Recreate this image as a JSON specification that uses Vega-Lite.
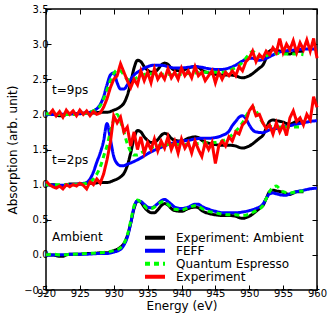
{
"$schema":"https://vega.github.io/schema/vega-lite/v6.json",
"width":271,"height":281,
"autosize":{"type":"none"},
"padding":{"left":46,"top":9,"right":16,"bottom":33},
"background":"white",
"datasets":{
"sp":[
{"s":"K","g":"a","E":920,"A":0.0},{"s":"K","g":"a","E":921,"A":0.0},{"s":"K","g":"a","E":922,"A":-0.02},{"s":"K","g":"a","E":922.5,"A":-0.02},{"s":"K","g":"a","E":923,"A":0.0},{"s":"K","g":"a","E":924,"A":0.01},{"s":"K","g":"a","E":925,"A":0.01},{"s":"K","g":"a","E":926,"A":0.02},{"s":"K","g":"a","E":927,"A":0.02},{"s":"K","g":"a","E":928,"A":0.03},{"s":"K","g":"a","E":929,"A":0.03},{"s":"K","g":"a","E":930,"A":0.06},{"s":"K","g":"a","E":931,"A":0.11},{"s":"K","g":"a","E":931.5,"A":0.16},{"s":"K","g":"a","E":932,"A":0.27},{"s":"K","g":"a","E":932.5,"A":0.45},{"s":"K","g":"a","E":933,"A":0.66},{"s":"K","g":"a","E":933.5,"A":0.77},{"s":"K","g":"a","E":934,"A":0.75},{"s":"K","g":"a","E":934.5,"A":0.68},{"s":"K","g":"a","E":935,"A":0.63},{"s":"K","g":"a","E":935.5,"A":0.6},{"s":"K","g":"a","E":936,"A":0.6},{"s":"K","g":"a","E":936.5,"A":0.64},{"s":"K","g":"a","E":937,"A":0.7},{"s":"K","g":"a","E":937.5,"A":0.73},{"s":"K","g":"a","E":938,"A":0.71},{"s":"K","g":"a","E":938.5,"A":0.66},{"s":"K","g":"a","E":939,"A":0.63},{"s":"K","g":"a","E":940,"A":0.62},{"s":"K","g":"a","E":941,"A":0.66},{"s":"K","g":"a","E":942,"A":0.68},{"s":"K","g":"a","E":942.5,"A":0.67},{"s":"K","g":"a","E":943,"A":0.63},{"s":"K","g":"a","E":944,"A":0.59},{"s":"K","g":"a","E":945,"A":0.57},{"s":"K","g":"a","E":946,"A":0.56},{"s":"K","g":"a","E":947,"A":0.56},{"s":"K","g":"a","E":948,"A":0.55},{"s":"K","g":"a","E":948.5,"A":0.53},{"s":"K","g":"a","E":949,"A":0.52},{"s":"K","g":"a","E":949.5,"A":0.53},{"s":"K","g":"a","E":950,"A":0.55},{"s":"K","g":"a","E":950.5,"A":0.58},{"s":"K","g":"a","E":951,"A":0.62},{"s":"K","g":"a","E":951.5,"A":0.66},{"s":"K","g":"a","E":952,"A":0.7},{"s":"K","g":"a","E":952.5,"A":0.8},{"s":"K","g":"a","E":953,"A":0.9},{"s":"K","g":"a","E":953.5,"A":0.92},{"s":"K","g":"a","E":954,"A":0.91},{"s":"K","g":"a","E":955,"A":0.89},{"s":"K","g":"a","E":955.5,"A":0.87},{"s":"K","g":"a","E":956,"A":0.86},{"s":"K","g":"a","E":956.5,"A":0.88},{"s":"K","g":"a","E":957,"A":0.9},{"s":"K","g":"a","E":958,"A":0.9},
{"s":"K","g":"b","E":920,"A":1.0},{"s":"K","g":"b","E":921,"A":1.0},{"s":"K","g":"b","E":922,"A":0.98},{"s":"K","g":"b","E":922.5,"A":0.98},{"s":"K","g":"b","E":923,"A":1.0},{"s":"K","g":"b","E":924,"A":1.01},{"s":"K","g":"b","E":925,"A":1.01},{"s":"K","g":"b","E":926,"A":1.02},{"s":"K","g":"b","E":927,"A":1.02},{"s":"K","g":"b","E":928,"A":1.03},{"s":"K","g":"b","E":929,"A":1.03},{"s":"K","g":"b","E":930,"A":1.06},{"s":"K","g":"b","E":931,"A":1.11},{"s":"K","g":"b","E":931.5,"A":1.16},{"s":"K","g":"b","E":932,"A":1.27},{"s":"K","g":"b","E":932.5,"A":1.45},{"s":"K","g":"b","E":933,"A":1.66},{"s":"K","g":"b","E":933.5,"A":1.77},{"s":"K","g":"b","E":934,"A":1.75},{"s":"K","g":"b","E":934.5,"A":1.68},{"s":"K","g":"b","E":935,"A":1.63},{"s":"K","g":"b","E":935.5,"A":1.6},{"s":"K","g":"b","E":936,"A":1.6},{"s":"K","g":"b","E":936.5,"A":1.64},{"s":"K","g":"b","E":937,"A":1.7},{"s":"K","g":"b","E":937.5,"A":1.73},{"s":"K","g":"b","E":938,"A":1.71},{"s":"K","g":"b","E":938.5,"A":1.66},{"s":"K","g":"b","E":939,"A":1.63},{"s":"K","g":"b","E":940,"A":1.62},{"s":"K","g":"b","E":941,"A":1.66},{"s":"K","g":"b","E":942,"A":1.68},{"s":"K","g":"b","E":942.5,"A":1.67},{"s":"K","g":"b","E":943,"A":1.63},{"s":"K","g":"b","E":944,"A":1.59},{"s":"K","g":"b","E":945,"A":1.57},{"s":"K","g":"b","E":946,"A":1.56},{"s":"K","g":"b","E":947,"A":1.56},{"s":"K","g":"b","E":948,"A":1.55},{"s":"K","g":"b","E":948.5,"A":1.53},{"s":"K","g":"b","E":949,"A":1.52},{"s":"K","g":"b","E":949.5,"A":1.53},{"s":"K","g":"b","E":950,"A":1.55},{"s":"K","g":"b","E":950.5,"A":1.58},{"s":"K","g":"b","E":951,"A":1.62},{"s":"K","g":"b","E":951.5,"A":1.66},{"s":"K","g":"b","E":952,"A":1.7},{"s":"K","g":"b","E":952.5,"A":1.8},{"s":"K","g":"b","E":953,"A":1.9},{"s":"K","g":"b","E":953.5,"A":1.92},{"s":"K","g":"b","E":954,"A":1.91},{"s":"K","g":"b","E":955,"A":1.89},{"s":"K","g":"b","E":955.5,"A":1.87},{"s":"K","g":"b","E":956,"A":1.86},{"s":"K","g":"b","E":956.5,"A":1.88},{"s":"K","g":"b","E":957,"A":1.9},{"s":"K","g":"b","E":958,"A":1.9},
{"s":"K","g":"c","E":920,"A":2.0},{"s":"K","g":"c","E":921,"A":2.0},{"s":"K","g":"c","E":922,"A":1.98},{"s":"K","g":"c","E":922.5,"A":1.98},{"s":"K","g":"c","E":923,"A":2.0},{"s":"K","g":"c","E":924,"A":2.01},{"s":"K","g":"c","E":925,"A":2.01},{"s":"K","g":"c","E":926,"A":2.02},{"s":"K","g":"c","E":927,"A":2.02},{"s":"K","g":"c","E":928,"A":2.03},{"s":"K","g":"c","E":929,"A":2.03},{"s":"K","g":"c","E":930,"A":2.06},{"s":"K","g":"c","E":931,"A":2.11},{"s":"K","g":"c","E":931.5,"A":2.16},{"s":"K","g":"c","E":932,"A":2.27},{"s":"K","g":"c","E":932.5,"A":2.45},{"s":"K","g":"c","E":933,"A":2.66},{"s":"K","g":"c","E":933.5,"A":2.77},{"s":"K","g":"c","E":934,"A":2.75},{"s":"K","g":"c","E":934.5,"A":2.68},{"s":"K","g":"c","E":935,"A":2.63},{"s":"K","g":"c","E":935.5,"A":2.6},{"s":"K","g":"c","E":936,"A":2.6},{"s":"K","g":"c","E":936.5,"A":2.64},{"s":"K","g":"c","E":937,"A":2.7},{"s":"K","g":"c","E":937.5,"A":2.73},{"s":"K","g":"c","E":938,"A":2.71},{"s":"K","g":"c","E":938.5,"A":2.66},{"s":"K","g":"c","E":939,"A":2.63},{"s":"K","g":"c","E":940,"A":2.62},{"s":"K","g":"c","E":941,"A":2.66},{"s":"K","g":"c","E":942,"A":2.68},{"s":"K","g":"c","E":942.5,"A":2.67},{"s":"K","g":"c","E":943,"A":2.63},{"s":"K","g":"c","E":944,"A":2.59},{"s":"K","g":"c","E":945,"A":2.57},{"s":"K","g":"c","E":946,"A":2.56},{"s":"K","g":"c","E":947,"A":2.56},{"s":"K","g":"c","E":948,"A":2.55},{"s":"K","g":"c","E":948.5,"A":2.53},{"s":"K","g":"c","E":949,"A":2.52},{"s":"K","g":"c","E":949.5,"A":2.53},{"s":"K","g":"c","E":950,"A":2.55},{"s":"K","g":"c","E":950.5,"A":2.58},{"s":"K","g":"c","E":951,"A":2.62},{"s":"K","g":"c","E":951.5,"A":2.66},{"s":"K","g":"c","E":952,"A":2.7},{"s":"K","g":"c","E":952.5,"A":2.8},{"s":"K","g":"c","E":953,"A":2.9},{"s":"K","g":"c","E":953.5,"A":2.92},{"s":"K","g":"c","E":954,"A":2.91},{"s":"K","g":"c","E":955,"A":2.89},{"s":"K","g":"c","E":955.5,"A":2.87},{"s":"K","g":"c","E":956,"A":2.86},{"s":"K","g":"c","E":956.5,"A":2.88},{"s":"K","g":"c","E":957,"A":2.9},{"s":"K","g":"c","E":958,"A":2.9},
{"s":"B","g":"a","E":920,"A":0.0},{"s":"B","g":"a","E":922,"A":0.0},{"s":"B","g":"a","E":924,"A":0.01},{"s":"B","g":"a","E":926,"A":0.01},{"s":"B","g":"a","E":928,"A":0.02},{"s":"B","g":"a","E":929,"A":0.02},{"s":"B","g":"a","E":930,"A":0.04},{"s":"B","g":"a","E":931,"A":0.08},{"s":"B","g":"a","E":931.5,"A":0.14},{"s":"B","g":"a","E":932,"A":0.25},{"s":"B","g":"a","E":932.5,"A":0.45},{"s":"B","g":"a","E":933,"A":0.68},{"s":"B","g":"a","E":933.5,"A":0.77},{"s":"B","g":"a","E":934,"A":0.76},{"s":"B","g":"a","E":934.5,"A":0.72},{"s":"B","g":"a","E":935,"A":0.68},{"s":"B","g":"a","E":935.5,"A":0.67},{"s":"B","g":"a","E":936,"A":0.69},{"s":"B","g":"a","E":936.5,"A":0.73},{"s":"B","g":"a","E":937,"A":0.77},{"s":"B","g":"a","E":937.5,"A":0.79},{"s":"B","g":"a","E":938,"A":0.76},{"s":"B","g":"a","E":938.5,"A":0.72},{"s":"B","g":"a","E":939,"A":0.68},{"s":"B","g":"a","E":940,"A":0.66},{"s":"B","g":"a","E":941,"A":0.68},{"s":"B","g":"a","E":942,"A":0.72},{"s":"B","g":"a","E":942.5,"A":0.72},{"s":"B","g":"a","E":943,"A":0.69},{"s":"B","g":"a","E":944,"A":0.65},{"s":"B","g":"a","E":945,"A":0.62},{"s":"B","g":"a","E":946,"A":0.6},{"s":"B","g":"a","E":947,"A":0.6},{"s":"B","g":"a","E":948,"A":0.6},{"s":"B","g":"a","E":949,"A":0.61},{"s":"B","g":"a","E":950,"A":0.63},{"s":"B","g":"a","E":951,"A":0.66},{"s":"B","g":"a","E":952,"A":0.72},{"s":"B","g":"a","E":952.5,"A":0.8},{"s":"B","g":"a","E":953,"A":0.87},{"s":"B","g":"a","E":953.5,"A":0.88},{"s":"B","g":"a","E":954,"A":0.87},{"s":"B","g":"a","E":955,"A":0.85},{"s":"B","g":"a","E":955.5,"A":0.85},{"s":"B","g":"a","E":956,"A":0.87},{"s":"B","g":"a","E":957,"A":0.9},{"s":"B","g":"a","E":958,"A":0.92},{"s":"B","g":"a","E":959,"A":0.94},{"s":"B","g":"a","E":960,"A":0.95},
{"s":"B","g":"b","E":920,"A":1.0},{"s":"B","g":"b","E":922,"A":0.99},{"s":"B","g":"b","E":924,"A":1.0},{"s":"B","g":"b","E":925,"A":1.01},{"s":"B","g":"b","E":926,"A":1.03},{"s":"B","g":"b","E":926.5,"A":1.08},{"s":"B","g":"b","E":927,"A":1.18},{"s":"B","g":"b","E":927.5,"A":1.32},{"s":"B","g":"b","E":928,"A":1.45},{"s":"B","g":"b","E":928.5,"A":1.62},{"s":"B","g":"b","E":929,"A":1.87},{"s":"B","g":"b","E":929.5,"A":1.65},{"s":"B","g":"b","E":930,"A":1.4},{"s":"B","g":"b","E":930.5,"A":1.3},{"s":"B","g":"b","E":931,"A":1.27},{"s":"B","g":"b","E":931.5,"A":1.27},{"s":"B","g":"b","E":932,"A":1.29},{"s":"B","g":"b","E":933,"A":1.33},{"s":"B","g":"b","E":934,"A":1.38},{"s":"B","g":"b","E":935,"A":1.44},{"s":"B","g":"b","E":936,"A":1.49},{"s":"B","g":"b","E":937,"A":1.53},{"s":"B","g":"b","E":938,"A":1.57},{"s":"B","g":"b","E":939,"A":1.6},{"s":"B","g":"b","E":940,"A":1.62},{"s":"B","g":"b","E":941,"A":1.63},{"s":"B","g":"b","E":942,"A":1.65},{"s":"B","g":"b","E":943,"A":1.66},{"s":"B","g":"b","E":944,"A":1.66},{"s":"B","g":"b","E":945,"A":1.67},{"s":"B","g":"b","E":946,"A":1.7},{"s":"B","g":"b","E":947,"A":1.76},{"s":"B","g":"b","E":947.5,"A":1.84},{"s":"B","g":"b","E":948,"A":1.9},{"s":"B","g":"b","E":948.5,"A":1.96},{"s":"B","g":"b","E":949,"A":1.98},{"s":"B","g":"b","E":949.5,"A":1.94},{"s":"B","g":"b","E":950,"A":1.85},{"s":"B","g":"b","E":950.5,"A":1.78},{"s":"B","g":"b","E":951,"A":1.75},{"s":"B","g":"b","E":952,"A":1.74},{"s":"B","g":"b","E":953,"A":1.78},{"s":"B","g":"b","E":954,"A":1.8},{"s":"B","g":"b","E":955,"A":1.82},{"s":"B","g":"b","E":956,"A":1.84},{"s":"B","g":"b","E":957,"A":1.86},{"s":"B","g":"b","E":958,"A":1.88},{"s":"B","g":"b","E":959,"A":1.9},{"s":"B","g":"b","E":960,"A":1.91},
{"s":"B","g":"c","E":920,"A":2.0},{"s":"B","g":"c","E":922,"A":2.0},{"s":"B","g":"c","E":924,"A":2.01},{"s":"B","g":"c","E":926,"A":2.02},{"s":"B","g":"c","E":927,"A":2.05},{"s":"B","g":"c","E":927.5,"A":2.08},{"s":"B","g":"c","E":928,"A":2.14},{"s":"B","g":"c","E":928.5,"A":2.25},{"s":"B","g":"c","E":929,"A":2.42},{"s":"B","g":"c","E":929.5,"A":2.56},{"s":"B","g":"c","E":930,"A":2.59},{"s":"B","g":"c","E":930.5,"A":2.45},{"s":"B","g":"c","E":931,"A":2.36},{"s":"B","g":"c","E":931.5,"A":2.36},{"s":"B","g":"c","E":932,"A":2.42},{"s":"B","g":"c","E":932.5,"A":2.5},{"s":"B","g":"c","E":933,"A":2.56},{"s":"B","g":"c","E":934,"A":2.63},{"s":"B","g":"c","E":935,"A":2.68},{"s":"B","g":"c","E":936,"A":2.7},{"s":"B","g":"c","E":937,"A":2.7},{"s":"B","g":"c","E":938,"A":2.68},{"s":"B","g":"c","E":939,"A":2.66},{"s":"B","g":"c","E":940,"A":2.66},{"s":"B","g":"c","E":941,"A":2.67},{"s":"B","g":"c","E":942,"A":2.68},{"s":"B","g":"c","E":943,"A":2.67},{"s":"B","g":"c","E":944,"A":2.65},{"s":"B","g":"c","E":945,"A":2.64},{"s":"B","g":"c","E":946,"A":2.64},{"s":"B","g":"c","E":947,"A":2.66},{"s":"B","g":"c","E":948,"A":2.7},{"s":"B","g":"c","E":949,"A":2.76},{"s":"B","g":"c","E":950,"A":2.8},{"s":"B","g":"c","E":950.5,"A":2.8},{"s":"B","g":"c","E":951,"A":2.78},{"s":"B","g":"c","E":951.5,"A":2.77},{"s":"B","g":"c","E":952,"A":2.78},{"s":"B","g":"c","E":953,"A":2.82},{"s":"B","g":"c","E":954,"A":2.87},{"s":"B","g":"c","E":955,"A":2.9},{"s":"B","g":"c","E":956,"A":2.91},{"s":"B","g":"c","E":957,"A":2.92},{"s":"B","g":"c","E":958,"A":2.93},{"s":"B","g":"c","E":960,"A":2.93},
{"s":"G","g":"a","E":920,"A":0.0},{"s":"G","g":"a","E":921,"A":0.01},{"s":"G","g":"a","E":922,"A":0.0},{"s":"G","g":"a","E":924,"A":0.01},{"s":"G","g":"a","E":926,"A":0.02},{"s":"G","g":"a","E":928,"A":0.03},{"s":"G","g":"a","E":929,"A":0.04},{"s":"G","g":"a","E":930,"A":0.06},{"s":"G","g":"a","E":931,"A":0.1},{"s":"G","g":"a","E":931.5,"A":0.16},{"s":"G","g":"a","E":932,"A":0.28},{"s":"G","g":"a","E":932.5,"A":0.48},{"s":"G","g":"a","E":933,"A":0.7},{"s":"G","g":"a","E":933.5,"A":0.78},{"s":"G","g":"a","E":934,"A":0.75},{"s":"G","g":"a","E":934.5,"A":0.7},{"s":"G","g":"a","E":935,"A":0.66},{"s":"G","g":"a","E":935.5,"A":0.66},{"s":"G","g":"a","E":936,"A":0.68},{"s":"G","g":"a","E":936.5,"A":0.72},{"s":"G","g":"a","E":937,"A":0.75},{"s":"G","g":"a","E":937.5,"A":0.76},{"s":"G","g":"a","E":938,"A":0.72},{"s":"G","g":"a","E":938.5,"A":0.68},{"s":"G","g":"a","E":939,"A":0.65},{"s":"G","g":"a","E":940,"A":0.64},{"s":"G","g":"a","E":941,"A":0.67},{"s":"G","g":"a","E":942,"A":0.7},{"s":"G","g":"a","E":942.5,"A":0.69},{"s":"G","g":"a","E":943,"A":0.66},{"s":"G","g":"a","E":944,"A":0.62},{"s":"G","g":"a","E":945,"A":0.6},{"s":"G","g":"a","E":946,"A":0.58},{"s":"G","g":"a","E":947,"A":0.57},{"s":"G","g":"a","E":948,"A":0.57},{"s":"G","g":"a","E":949,"A":0.56},{"s":"G","g":"a","E":950,"A":0.58},{"s":"G","g":"a","E":951,"A":0.63},{"s":"G","g":"a","E":952,"A":0.7},{"s":"G","g":"a","E":952.5,"A":0.8},{"s":"G","g":"a","E":953,"A":0.9},{"s":"G","g":"a","E":953.5,"A":0.96},{"s":"G","g":"a","E":954,"A":0.98},{"s":"G","g":"a","E":954.5,"A":0.94},{"s":"G","g":"a","E":955,"A":0.9},{"s":"G","g":"a","E":956,"A":0.88},{"s":"G","g":"a","E":957,"A":0.9},{"s":"G","g":"a","E":958,"A":0.91},
{"s":"G","g":"b","E":920,"A":1.0},{"s":"G","g":"b","E":922,"A":1.0},{"s":"G","g":"b","E":924,"A":1.0},{"s":"G","g":"b","E":926,"A":1.02},{"s":"G","g":"b","E":927,"A":1.08},{"s":"G","g":"b","E":927.5,"A":1.15},{"s":"G","g":"b","E":928,"A":1.25},{"s":"G","g":"b","E":928.5,"A":1.4},{"s":"G","g":"b","E":929,"A":1.55},{"s":"G","g":"b","E":929.5,"A":1.75},{"s":"G","g":"b","E":930,"A":1.92},{"s":"G","g":"b","E":930.5,"A":2.0},{"s":"G","g":"b","E":931,"A":1.9},{"s":"G","g":"b","E":931.5,"A":1.75},{"s":"G","g":"b","E":932,"A":1.58},{"s":"G","g":"b","E":932.5,"A":1.47},{"s":"G","g":"b","E":933,"A":1.42},{"s":"G","g":"b","E":933.5,"A":1.42},{"s":"G","g":"b","E":934,"A":1.45},{"s":"G","g":"b","E":935,"A":1.5},{"s":"G","g":"b","E":936,"A":1.54},{"s":"G","g":"b","E":937,"A":1.56},{"s":"G","g":"b","E":938,"A":1.57},{"s":"G","g":"b","E":940,"A":1.57},{"s":"G","g":"b","E":942,"A":1.58},{"s":"G","g":"b","E":944,"A":1.6},{"s":"G","g":"b","E":945,"A":1.6},{"s":"G","g":"b","E":946,"A":1.62},{"s":"G","g":"b","E":947,"A":1.67},{"s":"G","g":"b","E":948,"A":1.76},{"s":"G","g":"b","E":949,"A":1.88},{"s":"G","g":"b","E":949.5,"A":1.97},{"s":"G","g":"b","E":950,"A":2.05},{"s":"G","g":"b","E":950.5,"A":2.1},{"s":"G","g":"b","E":951,"A":2.05},{"s":"G","g":"b","E":951.5,"A":1.96},{"s":"G","g":"b","E":952,"A":1.88},{"s":"G","g":"b","E":953,"A":1.83},{"s":"G","g":"b","E":954,"A":1.82},{"s":"G","g":"b","E":955,"A":1.82},{"s":"G","g":"b","E":956,"A":1.82},{"s":"G","g":"b","E":957,"A":1.82},{"s":"G","g":"b","E":958,"A":1.82},
{"s":"G","g":"c","E":920,"A":2.01},{"s":"G","g":"c","E":922,"A":2.0},{"s":"G","g":"c","E":924,"A":2.0},{"s":"G","g":"c","E":926,"A":2.02},{"s":"G","g":"c","E":927,"A":2.05},{"s":"G","g":"c","E":928,"A":2.12},{"s":"G","g":"c","E":928.5,"A":2.22},{"s":"G","g":"c","E":929,"A":2.35},{"s":"G","g":"c","E":929.5,"A":2.48},{"s":"G","g":"c","E":930,"A":2.58},{"s":"G","g":"c","E":930.5,"A":2.63},{"s":"G","g":"c","E":931,"A":2.62},{"s":"G","g":"c","E":931.5,"A":2.56},{"s":"G","g":"c","E":932,"A":2.5},{"s":"G","g":"c","E":932.5,"A":2.48},{"s":"G","g":"c","E":933,"A":2.5},{"s":"G","g":"c","E":934,"A":2.55},{"s":"G","g":"c","E":935,"A":2.58},{"s":"G","g":"c","E":936,"A":2.58},{"s":"G","g":"c","E":937,"A":2.57},{"s":"G","g":"c","E":938,"A":2.57},{"s":"G","g":"c","E":939,"A":2.56},{"s":"G","g":"c","E":940,"A":2.57},{"s":"G","g":"c","E":942,"A":2.59},{"s":"G","g":"c","E":944,"A":2.6},{"s":"G","g":"c","E":946,"A":2.6},{"s":"G","g":"c","E":947,"A":2.62},{"s":"G","g":"c","E":948,"A":2.67},{"s":"G","g":"c","E":949,"A":2.74},{"s":"G","g":"c","E":949.5,"A":2.8},{"s":"G","g":"c","E":950,"A":2.86},{"s":"G","g":"c","E":950.5,"A":2.9},{"s":"G","g":"c","E":951,"A":2.86},{"s":"G","g":"c","E":951.5,"A":2.82},{"s":"G","g":"c","E":952,"A":2.82},{"s":"G","g":"c","E":953,"A":2.85},{"s":"G","g":"c","E":954,"A":2.87},{"s":"G","g":"c","E":955,"A":2.86},{"s":"G","g":"c","E":956,"A":2.86},{"s":"G","g":"c","E":957,"A":2.86},{"s":"G","g":"c","E":958,"A":2.85},
{"s":"R","g":"b","E":920,"A":1.05},{"s":"R","g":"b","E":920.5,"A":1.0},{"s":"R","g":"b","E":921,"A":0.97},{"s":"R","g":"b","E":921.5,"A":0.95},{"s":"R","g":"b","E":922,"A":0.98},{"s":"R","g":"b","E":922.5,"A":0.94},{"s":"R","g":"b","E":923,"A":1.0},{"s":"R","g":"b","E":923.5,"A":0.97},{"s":"R","g":"b","E":924,"A":1.0},{"s":"R","g":"b","E":924.5,"A":0.98},{"s":"R","g":"b","E":925,"A":1.02},{"s":"R","g":"b","E":925.5,"A":0.99},{"s":"R","g":"b","E":926,"A":0.94},{"s":"R","g":"b","E":926.5,"A":1.04},{"s":"R","g":"b","E":927,"A":1.0},{"s":"R","g":"b","E":927.5,"A":1.08},{"s":"R","g":"b","E":928,"A":1.02},{"s":"R","g":"b","E":928.5,"A":1.15},{"s":"R","g":"b","E":929,"A":1.35},{"s":"R","g":"b","E":929.5,"A":1.6},{"s":"R","g":"b","E":930,"A":1.98},{"s":"R","g":"b","E":930.5,"A":1.88},{"s":"R","g":"b","E":931,"A":1.96},{"s":"R","g":"b","E":931.5,"A":1.75},{"s":"R","g":"b","E":932,"A":1.82},{"s":"R","g":"b","E":932.5,"A":1.55},{"s":"R","g":"b","E":933,"A":1.75},{"s":"R","g":"b","E":933.5,"A":1.5},{"s":"R","g":"b","E":934,"A":1.68},{"s":"R","g":"b","E":934.5,"A":1.45},{"s":"R","g":"b","E":935,"A":1.6},{"s":"R","g":"b","E":935.5,"A":1.5},{"s":"R","g":"b","E":936,"A":1.65},{"s":"R","g":"b","E":936.5,"A":1.48},{"s":"R","g":"b","E":937,"A":1.62},{"s":"R","g":"b","E":937.5,"A":1.52},{"s":"R","g":"b","E":938,"A":1.68},{"s":"R","g":"b","E":938.5,"A":1.5},{"s":"R","g":"b","E":939,"A":1.62},{"s":"R","g":"b","E":939.5,"A":1.45},{"s":"R","g":"b","E":940,"A":1.65},{"s":"R","g":"b","E":940.5,"A":1.52},{"s":"R","g":"b","E":941,"A":1.6},{"s":"R","g":"b","E":941.5,"A":1.45},{"s":"R","g":"b","E":942,"A":1.62},{"s":"R","g":"b","E":942.5,"A":1.5},{"s":"R","g":"b","E":943,"A":1.4},{"s":"R","g":"b","E":943.5,"A":1.6},{"s":"R","g":"b","E":944,"A":1.5},{"s":"R","g":"b","E":944.5,"A":1.6},{"s":"R","g":"b","E":945,"A":1.3},{"s":"R","g":"b","E":945.5,"A":1.55},{"s":"R","g":"b","E":946,"A":1.62},{"s":"R","g":"b","E":946.5,"A":1.55},{"s":"R","g":"b","E":947,"A":1.68},{"s":"R","g":"b","E":947.5,"A":1.62},{"s":"R","g":"b","E":948,"A":1.75},{"s":"R","g":"b","E":948.5,"A":1.72},{"s":"R","g":"b","E":949,"A":1.85},{"s":"R","g":"b","E":949.5,"A":1.9},{"s":"R","g":"b","E":950,"A":2.05},{"s":"R","g":"b","E":950.5,"A":2.12},{"s":"R","g":"b","E":951,"A":1.98},{"s":"R","g":"b","E":951.5,"A":2.0},{"s":"R","g":"b","E":952,"A":1.88},{"s":"R","g":"b","E":952.5,"A":1.8},{"s":"R","g":"b","E":953,"A":1.85},{"s":"R","g":"b","E":953.5,"A":1.72},{"s":"R","g":"b","E":954,"A":1.88},{"s":"R","g":"b","E":954.5,"A":1.75},{"s":"R","g":"b","E":955,"A":1.85},{"s":"R","g":"b","E":955.5,"A":1.7},{"s":"R","g":"b","E":956,"A":1.95},{"s":"R","g":"b","E":956.5,"A":2.05},{"s":"R","g":"b","E":957,"A":1.9},{"s":"R","g":"b","E":957.5,"A":1.95},{"s":"R","g":"b","E":958,"A":1.85},{"s":"R","g":"b","E":958.5,"A":2.0},{"s":"R","g":"b","E":959,"A":1.92},{"s":"R","g":"b","E":959.5,"A":2.25},{"s":"R","g":"b","E":960,"A":2.1},
{"s":"R","g":"c","E":920.5,"A":2.0},{"s":"R","g":"c","E":921,"A":2.06},{"s":"R","g":"c","E":921.5,"A":1.98},{"s":"R","g":"c","E":922,"A":2.04},{"s":"R","g":"c","E":922.5,"A":1.96},{"s":"R","g":"c","E":923,"A":2.06},{"s":"R","g":"c","E":923.5,"A":2.0},{"s":"R","g":"c","E":924,"A":2.05},{"s":"R","g":"c","E":924.5,"A":1.98},{"s":"R","g":"c","E":925,"A":2.06},{"s":"R","g":"c","E":925.5,"A":2.0},{"s":"R","g":"c","E":926,"A":2.05},{"s":"R","g":"c","E":926.5,"A":1.98},{"s":"R","g":"c","E":927,"A":2.04},{"s":"R","g":"c","E":927.5,"A":2.0},{"s":"R","g":"c","E":928,"A":2.02},{"s":"R","g":"c","E":928.5,"A":2.1},{"s":"R","g":"c","E":929,"A":2.22},{"s":"R","g":"c","E":929.5,"A":2.38},{"s":"R","g":"c","E":930,"A":2.5},{"s":"R","g":"c","E":930.5,"A":2.55},{"s":"R","g":"c","E":931,"A":2.72},{"s":"R","g":"c","E":931.5,"A":2.6},{"s":"R","g":"c","E":932,"A":2.48},{"s":"R","g":"c","E":932.5,"A":2.38},{"s":"R","g":"c","E":933,"A":2.5},{"s":"R","g":"c","E":933.5,"A":2.42},{"s":"R","g":"c","E":934,"A":2.62},{"s":"R","g":"c","E":934.5,"A":2.48},{"s":"R","g":"c","E":935,"A":2.6},{"s":"R","g":"c","E":935.5,"A":2.45},{"s":"R","g":"c","E":936,"A":2.65},{"s":"R","g":"c","E":936.5,"A":2.5},{"s":"R","g":"c","E":937,"A":2.58},{"s":"R","g":"c","E":937.5,"A":2.5},{"s":"R","g":"c","E":938,"A":2.65},{"s":"R","g":"c","E":938.5,"A":2.52},{"s":"R","g":"c","E":939,"A":2.6},{"s":"R","g":"c","E":939.5,"A":2.5},{"s":"R","g":"c","E":940,"A":2.66},{"s":"R","g":"c","E":940.5,"A":2.55},{"s":"R","g":"c","E":941,"A":2.62},{"s":"R","g":"c","E":941.5,"A":2.52},{"s":"R","g":"c","E":942,"A":2.68},{"s":"R","g":"c","E":942.5,"A":2.55},{"s":"R","g":"c","E":943,"A":2.6},{"s":"R","g":"c","E":943.5,"A":2.48},{"s":"R","g":"c","E":944,"A":2.55},{"s":"R","g":"c","E":944.5,"A":2.62},{"s":"R","g":"c","E":945,"A":2.45},{"s":"R","g":"c","E":945.5,"A":2.6},{"s":"R","g":"c","E":946,"A":2.5},{"s":"R","g":"c","E":946.5,"A":2.6},{"s":"R","g":"c","E":947,"A":2.55},{"s":"R","g":"c","E":947.5,"A":2.62},{"s":"R","g":"c","E":948,"A":2.55},{"s":"R","g":"c","E":948.5,"A":2.68},{"s":"R","g":"c","E":949,"A":2.62},{"s":"R","g":"c","E":949.5,"A":2.75},{"s":"R","g":"c","E":950,"A":2.8},{"s":"R","g":"c","E":950.5,"A":2.9},{"s":"R","g":"c","E":951,"A":2.75},{"s":"R","g":"c","E":951.5,"A":2.85},{"s":"R","g":"c","E":952,"A":2.8},{"s":"R","g":"c","E":952.5,"A":2.9},{"s":"R","g":"c","E":953,"A":2.85},{"s":"R","g":"c","E":953.5,"A":2.95},{"s":"R","g":"c","E":954,"A":2.88},{"s":"R","g":"c","E":954.5,"A":3.08},{"s":"R","g":"c","E":955,"A":2.88},{"s":"R","g":"c","E":955.5,"A":3.0},{"s":"R","g":"c","E":956,"A":2.92},{"s":"R","g":"c","E":956.5,"A":3.05},{"s":"R","g":"c","E":957,"A":2.88},{"s":"R","g":"c","E":957.5,"A":3.02},{"s":"R","g":"c","E":958,"A":2.92},{"s":"R","g":"c","E":958.5,"A":3.06},{"s":"R","g":"c","E":959,"A":2.9},{"s":"R","g":"c","E":959.5,"A":3.08},{"s":"R","g":"c","E":960,"A":2.8}
],
"ann":[
{"E":920.9,"A":2.35,"label":"t=9ps"},
{"E":920.9,"A":1.35,"label":"t=2ps"},
{"E":920.9,"A":0.25,"label":"Ambient"}
]
},
"layer":[
{
"encoding":{
"x":{"field":"E","type":"quantitative","scale":{"domain":[920,960],"nice":false,"zero":false},"axis":{"title":"Energy (eV)","values":[920,925,930,935,940,945,950,955,960],"format":"d","orient":"bottom"}},
"y":{"field":"A","type":"quantitative","scale":{"domain":[-0.5,3.5],"nice":false,"zero":false},"axis":{"title":"Absorption (arb. unit)","values":[-0.5,0,0.5,1,1.5,2,2.5,3,3.5],"format":".1f","orient":"left"}}
},
"layer":[
{"data":{"name":"sp"},"transform":[{"filter":{"field":"s","equal":"K"}}],
"mark":{"type":"line","strokeWidth":3,"interpolate":"monotone"},
"encoding":{"detail":{"field":"g"},
"color":{"field":"s","type":"nominal","scale":{"domain":["K","B","G","R"],"range":["#000000","#0000ff","#00ff00","#ff0000"]},"legend":{"title":null,"labelExpr":"datum.label == 'K' ? 'Experiment: Ambient' : datum.label == 'B' ? 'FEFF' : datum.label == 'G' ? 'Quantum Espresso' : 'Experiment'"}},
"strokeDash":{"field":"s","type":"nominal","scale":{"domain":["K","B","G","R"],"range":[[1,0],[1,0],[5,4],[1,0]]},"legend":{"title":null,"labelExpr":"datum.label == 'K' ? 'Experiment: Ambient' : datum.label == 'B' ? 'FEFF' : datum.label == 'G' ? 'Quantum Espresso' : 'Experiment'"}}}},
{"data":{"name":"sp"},"transform":[{"filter":{"field":"s","equal":"B"}}],
"mark":{"type":"line","strokeWidth":3,"interpolate":"monotone"},
"encoding":{"detail":{"field":"g"},
"color":{"field":"s","type":"nominal"},
"strokeDash":{"field":"s","type":"nominal"}}},
{"data":{"name":"sp"},"transform":[{"filter":{"field":"s","equal":"G"}}],
"mark":{"type":"line","strokeWidth":3,"interpolate":"monotone"},
"encoding":{"detail":{"field":"g"},
"color":{"field":"s","type":"nominal"},
"strokeDash":{"field":"s","type":"nominal"}}},
{"data":{"name":"sp"},"transform":[{"filter":{"field":"s","equal":"R"}}],
"mark":{"type":"line","strokeWidth":3,"interpolate":"linear"},
"encoding":{"detail":{"field":"g"},
"color":{"field":"s","type":"nominal"},
"strokeDash":{"field":"s","type":"nominal"}}},
{"data":{"name":"ann"},"mark":{"type":"text","align":"left","baseline":"middle","font":"DejaVu Sans","fontSize":12,"color":"black"},
"encoding":{"text":{"field":"label"}}}
]
},
{"data":{"name":"ann"},"mark":{"type":"point","opacity":0},
"encoding":{
"x":{"field":"E","type":"quantitative","axis":{"orient":"top","labels":false,"title":null,"values":[920,925,930,935,940,945,950,955,960]}},
"y":{"field":"A","type":"quantitative","axis":{"orient":"right","labels":false,"title":null,"values":[-0.5,0,0.5,1,1.5,2,2.5,3,3.5]}}
}}
],
"resolve":{"axis":{"x":"independent","y":"independent"}},
"config":{
"view":{"stroke":"black","strokeWidth":1.5},
"axis":{"domain":false,"grid":false,"tickSize":-5,"tickColor":"black","tickWidth":1,"labelColor":"black","titleColor":"black","labelFont":"DejaVu Sans","titleFont":"DejaVu Sans","labelFontSize":10,"titleFontSize":12,"titleFontWeight":"normal","labelFlush":false,"labelOverlap":false,"labelPadding":3},
"axisX":{"titlePadding":2},
"axisY":{"titlePadding":4},
"legend":{"orient":"none","legendX":97,"legendY":223,"symbolType":"stroke","symbolSize":400,"symbolStrokeWidth":4,"labelFont":"DejaVu Sans","labelFontSize":12,"labelColor":"black","clipHeight":11.5,"rowPadding":0,"labelOffset":9,"padding":0}
}
}
